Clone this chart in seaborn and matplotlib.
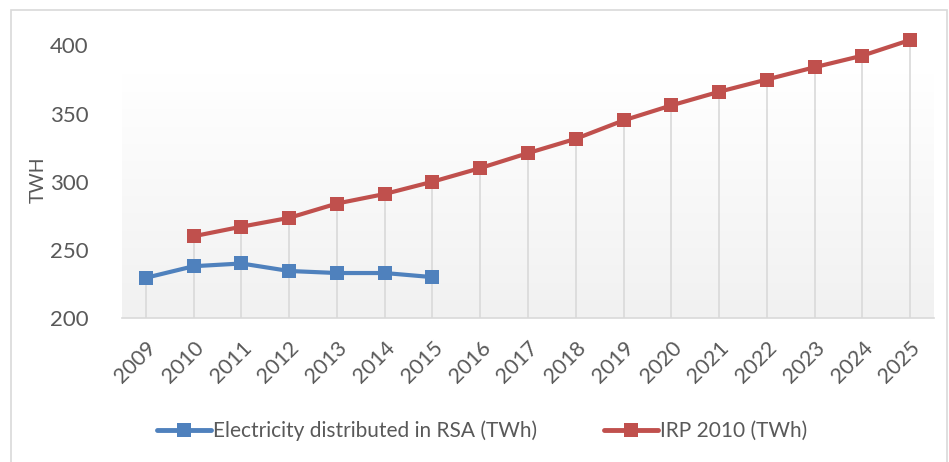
import numpy as np
import pandas as pd
import matplotlib.pyplot as plt
import seaborn as sns
from matplotlib.patches import Rectangle

years = list(range(2009, 2026))
rsa_years = [2009, 2010, 2011, 2012, 2013, 2014, 2015]
rsa_twh = [229.5, 238, 240, 234.5, 233, 233, 230]
irp_years = list(range(2010, 2026))
irp_twh = [260, 267, 273.5, 284, 291, 300, 310, 321, 331.5, 345, 356, 366, 375, 384, 392.5, 404]

rsa_name = 'Electricity distributed in RSA (TWh)'
irp_name = 'IRP 2010 (TWh)'

df = pd.concat([
    pd.DataFrame({'year': rsa_years, 'twh': rsa_twh, 'series': rsa_name}),
    pd.DataFrame({'year': irp_years, 'twh': irp_twh, 'series': irp_name}),
])
df['pos'] = df['year'] - years[0]

sns.set_theme(style='white')
plt.rcParams['font.family'] = ['Lato', 'DejaVu Sans']
grey_txt = '#595959'

fig = plt.figure(figsize=(9.49, 4.62), dpi=100)
ax = fig.add_axes([122 / 949, 1 - 318 / 462, (934 - 122) / 949, (318 - 25) / 462])

# outer chart border
fig.patches.append(Rectangle((11 / 949, -0.05), 936 / 949, 1 - 10 / 462 + 0.05,
                             transform=fig.transFigure, fill=False,
                             edgecolor='#d9d9d9', linewidth=1.2))

# gradient plot-area fill
grad = np.linspace(0, 1, 256).reshape(-1, 1)
ax.imshow(grad, extent=[-0.5, len(years) - 0.5, 200, 378.7], aspect='auto',
          cmap=sns.blend_palette(['#f1f1f1', '#ffffff'], as_cmap=True),
          origin='lower', zorder=0)

# drop lines down to the axis
top = df.groupby('pos')['twh'].max()
ax.vlines(top.index, 200, top.values, color='#d9d9d9', linewidth=1.2, zorder=1)

sns.lineplot(data=df, x='pos', y='twh', hue='series',
             palette={rsa_name: '#4F81BD', irp_name: '#C0504D'},
             marker='s', markersize=10, markeredgewidth=0, linewidth=3,
             ax=ax, zorder=3)

ax.set_xlim(-0.5, len(years) - 0.5)
ax.set_ylim(200, 415)
ax.set_yticks([200, 250, 300, 350, 400])
ax.set_xticks(range(len(years)))
ax.set_xticklabels([str(y) for y in years], rotation=45, ha='right',
                   rotation_mode='anchor')
ax.tick_params(axis='x', colors=grey_txt, labelsize=15.5, length=0, pad=14)
ax.tick_params(axis='y', colors=grey_txt, labelsize=16, length=0, pad=24)
ax.set_xlabel('')
ax.set_ylabel('TWH', color=grey_txt, fontsize=14)
ax.yaxis.set_label_coords((47 - 122) / 812, (318 - 180) / 293)
ax.set_facecolor('none')
for s in ['top', 'right', 'left']:
    ax.spines[s].set_visible(False)
ax.spines['bottom'].set_color('#d9d9d9')
ax.spines['bottom'].set_linewidth(1.2)

handles, labels = ax.get_legend_handles_labels()
ax.get_legend().remove()
for h in handles:
    h.set_linewidth(3.5)
leg = fig.legend(handles, labels, loc='center', bbox_to_anchor=(0.508, 1 - 431 / 462),
                 ncol=2, frameon=False, fontsize=15, handlelength=2.6,
                 columnspacing=3.2, handletextpad=0.1)
for t in leg.get_texts():
    t.set_color(grey_txt)

fig.savefig('out.png', dpi=100)
